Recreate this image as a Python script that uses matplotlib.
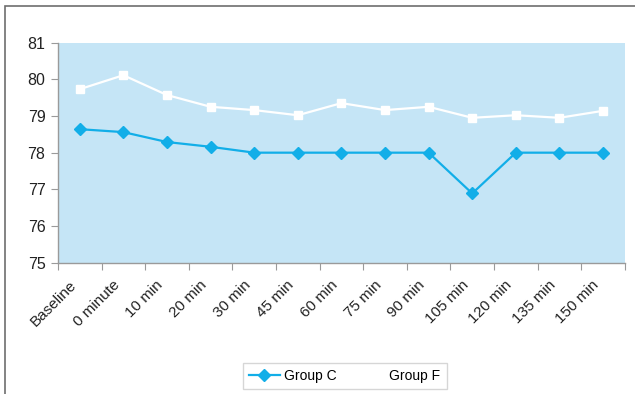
import numpy as np
import matplotlib.pyplot as plt
import matplotlib.transforms as mtransforms
from matplotlib.patches import Rectangle

times = ["Baseline", "0 minute", "10 min", "20 min", "30 min", "45 min", "60 min",
         "75 min", "90 min", "105 min", "120 min", "135 min", "150 min"]
group_c = [78.64, 78.56, 78.29, 78.16, 78.0, 78.0, 78.0, 78.0, 78.0, 76.89, 78.0, 78.0, 78.0]
group_f = [79.73, 80.11, 79.57, 79.25, 79.16, 79.02, 79.35, 79.16, 79.25, 78.95, 79.02, 78.95, 79.14]

plt.rcParams['font.family'] = ['Liberation Sans', 'DejaVu Sans']

fig = plt.figure(figsize=(6.35, 3.94), dpi=100)
ax = fig.add_axes([0.0913, 0.333, 0.8927, 0.559])
ax.set_facecolor('#c5e5f6')

x = np.arange(len(times))
ax.plot(x, group_c, color='#12aee8', lw=1.6, marker='D', ms=6, label='Group C')
ax.plot(x, group_f, color='white', lw=1.6, marker='s', ms=6, label='Group F')

ax.set_xlim(-0.5, len(times) - 0.5)
ax.set_ylim(75, 81)
ax.set_yticks(range(75, 82))
ax.set_xticks(np.arange(len(times) + 1) - 0.5)
ax.set_xticklabels([])

# slanted category labels, hung a little left of and below each category
lbl_trans = ax.get_xaxis_transform() + mtransforms.ScaledTranslation(-11 / 100, -15 / 100, fig.dpi_scale_trans)
for i, t in enumerate(times):
    ax.text(x[i], 0, t, transform=lbl_trans, rotation=45, ha='right', va='top',
            rotation_mode='anchor', fontsize=11, color='#222222')

ax.tick_params(axis='x', length=5, color='#9a9a9a')
ax.tick_params(axis='y', length=5, color='#9a9a9a', labelsize=11.5, labelcolor='#222222', pad=4)

for side in ['top', 'right']:
    ax.spines[side].set_visible(False)
for side in ['left', 'bottom']:
    ax.spines[side].set_color('#9a9a9a')
    ax.spines[side].set_linewidth(1)

leg = fig.legend(loc='center', bbox_to_anchor=(0.543, 0.046), ncol=2, fontsize=10,
                 frameon=True, fancybox=False, handlelength=2.2, handletextpad=0.3,
                 columnspacing=1.3, borderpad=0.45, borderaxespad=0)
leg.get_frame().set_edgecolor('#cccccc')
leg.get_frame().set_linewidth(1)

# outer frame of the chart
fig.patches.append(Rectangle((5 / 635, -0.1), 1.2, 1 - 6 / 394 + 0.1, transform=fig.transFigure,
                             fill=False, edgecolor='#6e6e6e', lw=1.2))

fig.savefig('out.png', dpi=100)
